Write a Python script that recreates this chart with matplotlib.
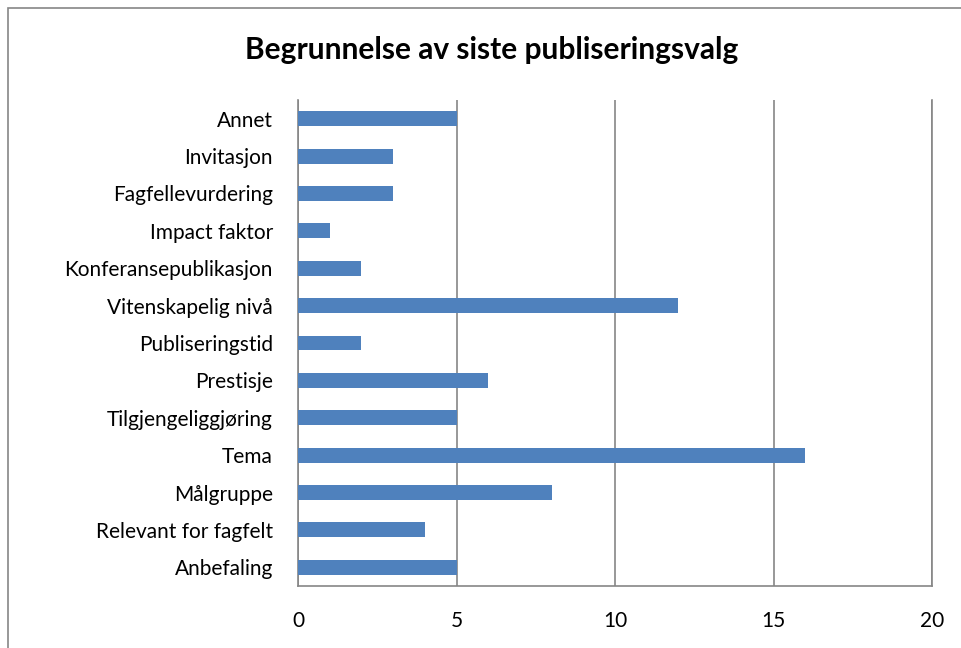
import matplotlib.pyplot as plt
from matplotlib.patches import Rectangle

plt.rcParams['font.family'] = ['Lato', 'DejaVu Sans']

# kategorier fra toppen og ned
kategorier = ['Annet', 'Invitasjon', 'Fagfellevurdering', 'Impact faktor',
              'Konferansepublikasjon', 'Vitenskapelig nivå', 'Publiseringstid',
              'Prestisje', 'Tilgjengeliggjøring', 'Tema', 'Målgruppe',
              'Relevant for fagfelt', 'Anbefaling']
antall = [5, 3, 3, 1, 2, 12, 2, 6, 5, 16, 8, 4, 5]
xticks = [0, 5, 10, 15, 20]

fig = plt.figure(figsize=(9.61, 6.48), dpi=100)
ax = fig.add_axes([298/961, 1 - 586/648, 634/961, 486/648])

pos = list(range(len(kategorier)))[::-1]
ax.barh(pos, antall, height=0.4, color='#4F81BD', zorder=3)

ax.set_xlim(0, 20)
ax.set_ylim(-0.5, len(kategorier) - 0.5)
ax.set_xticks(xticks)
ax.set_xticklabels([str(t) for t in xticks], fontsize=15)
ax.set_yticks(pos)
ax.set_yticklabels(kategorier, fontsize=15)
ax.tick_params(axis='both', length=0)
ax.tick_params(axis='x', pad=18)
ax.tick_params(axis='y', pad=18)
ax.grid(axis='x', color='#868686', linewidth=1.2, zorder=0)

for s in ['top']:
    ax.spines[s].set_visible(False)
for s in ['left', 'bottom', 'right']:
    ax.spines[s].set_color('#868686')
    ax.spines[s].set_linewidth(1.2)

fig.text(492/961, 1 - 50/648, 'Begrunnelse av siste publiseringsvalg',
         ha='center', va='center', fontsize=21.5, fontweight='bold')

# ramme rundt diagrammet
fig.patches.append(Rectangle((8/961, -0.1), 1.2, 1 - 7.5/648 + 0.1,
                             transform=fig.transFigure, fill=False,
                             edgecolor='#868686', linewidth=1.2))

plt.savefig('out.png', dpi=100)
